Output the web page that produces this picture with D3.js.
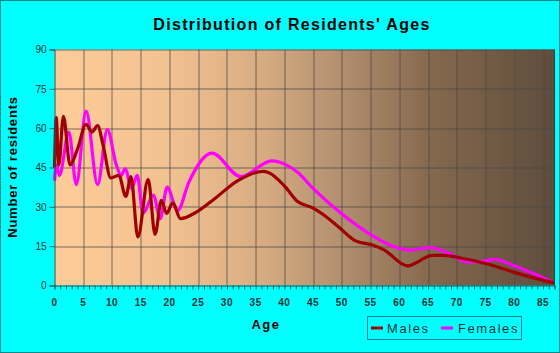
<!DOCTYPE html>
<html>
<head>
<meta charset="utf-8">
<script src="https://cdn.jsdelivr.net/npm/d3@7"></script>
<style>
  body { margin: 0; background: #00FFFF; }
  svg { display: block; font-family: "Liberation Sans", Arial, sans-serif; }
</style>
</head>
<body>
<div id="chart"></div>
<script>
// points: [age, residents]
const males = [
  [0, 45], [0.3, 64], [0.75, 46], [1.55, 64.5], [2.7, 46], [4, 52], [5.5, 61.5],
  [6.5, 58.5], [7.5, 61], [8.5, 53], [9.8, 41], [11.2, 42], [12.4, 34], [13.3, 41.5],
  [14.5, 18.5], [16.3, 40.5], [17.5, 19.5], [18.6, 32.5], [19.5, 27.5], [20.6, 31.5],
  [21.9, 25.5], [24.7, 28], [27.8, 33], [31.9, 40], [36.2, 43.5], [37.3, 43],
  [40, 38], [42.3, 32], [45, 29.5], [46.8, 27], [49.6, 22], [52.4, 17], [55.2, 15.5],
  [57.4, 13.5], [61.4, 7.5], [65.8, 11.5], [67.6, 11.5], [70.7, 10.5], [75.7, 8],
  [80, 5], [86.9, 1]
];
const females = [
  [0, 40], [0.35, 46], [0.85, 42], [2.5, 58.5], [3.8, 38.5], [5.5, 66.5], [7.5, 38.5],
  [9.2, 59.5], [10.75, 46], [11.6, 42], [12.3, 44.5], [13.4, 37], [14.4, 42],
  [15.4, 27.5], [17.2, 34.5], [18.4, 25.5], [19.6, 37.5], [21.4, 28.5], [23.4, 39.5],
  [27.4, 50.5], [32.4, 41.5], [37.8, 47.5], [40.3, 46], [42.4, 43], [45, 37],
  [49.6, 28], [54.6, 20], [58.9, 15], [62, 13.5], [65.4, 14.5], [68.9, 12],
  [71.7, 9], [73.8, 9], [76.6, 10], [80, 7.5], [86.9, 1]
];
const xTicks = d3.range(0, 90, 5);
const yTicks = [0, 15, 30, 45, 60, 75, 90];
const seriesNames = ["Males", "Females"];
const seriesColors = ["#A00000", "#FF00FF"];

const W = 560, H = 353;
const margin = { top: 49.5, right: 5.5, bottom: 67.5, left: 54.5 };
const width = W - margin.left - margin.right;
const height = H - margin.top - margin.bottom;

const svg = d3.select("#chart").append("svg")
    .attr("width", W)
    .attr("height", H);

// outer frame
svg.append("rect")
    .attr("x", 0.5).attr("y", 0.5)
    .attr("width", W - 1).attr("height", H - 1)
    .attr("fill", "#00FFFF")
    .attr("stroke", "#008B8B");

// plot gradient
const grad = svg.append("defs").append("linearGradient")
    .attr("id", "bg").attr("x1", "0%").attr("x2", "100%");
[["0%", "#FFCC99"], ["22%", "#F2C291"], ["42%", "#D7AB82"], ["58%", "#B08E6E"],
 ["75%", "#85694F"], ["100%", "#5E4C3C"]].forEach(s =>
  grad.append("stop").attr("offset", s[0]).attr("stop-color", s[1]));

const g = svg.append("g")
    .attr("transform", `translate(${margin.left},${margin.top})`);

const x = d3.scaleLinear().domain([0, 87]).range([0, width]);
const y = d3.scaleLinear().domain([0, 90]).range([height, 0]);

g.append("rect")
    .attr("width", width).attr("height", height)
    .attr("fill", "url(#bg)");

// grid lines
g.append("g")
  .selectAll("line")
  .data(xTicks.filter(d => d > 0))
  .join("line")
    .attr("x1", d => Math.round(x(d)) + 0.5).attr("x2", d => Math.round(x(d)) + 0.5)
    .attr("y1", 0).attr("y2", height)
    .attr("stroke", "#4a4a4a").attr("stroke-opacity", 0.75);
g.append("g")
  .selectAll("line")
  .data(yTicks.filter(d => d > 0))
  .join("line")
    .attr("x1", 0).attr("x2", width)
    .attr("y1", d => Math.round(y(d)) + 0.5).attr("y2", d => Math.round(y(d)) + 0.5)
    .attr("stroke", "#4a4a4a").attr("stroke-opacity", 0.75);

// right border of plot
g.append("line")
    .attr("x1", width).attr("x2", width).attr("y1", 0).attr("y2", height)
    .attr("stroke", "#3a3a3a");

// lines
const line = d3.line()
    .x(d => x(d[0]))
    .y(d => y(d[1]))
    .curve(d3.curveMonotoneX);

[males, females].forEach((s, i) => {
  g.append("path")
      .datum(s)
      .attr("fill", "none")
      .attr("stroke", seriesColors[i])
      .attr("stroke-width", 3.2)
      .attr("stroke-linejoin", "round")
      .attr("d", line);
});
// males drawn on top of females like in the picture
g.selectAll("path").filter((d, i) => i === 0).raise();

// Y axis
const yAxis = g.append("g")
    .call(d3.axisLeft(y).tickValues(yTicks).tickSize(5).tickPadding(3));
yAxis.select(".domain").attr("stroke", "#006060");
yAxis.selectAll(".tick line").attr("stroke", "#006060");
yAxis.selectAll("text")
    .attr("font-family", "Liberation Sans, Arial")
    .attr("font-size", 10)
    .attr("fill", "#003333");

// X axis, minor ticks every year
const xAxis = g.append("g")
    .attr("transform", `translate(0,${height})`)
    .call(d3.axisBottom(x).tickValues(d3.range(0, 88, 1)).tickSize(4).tickFormat(""));
xAxis.select(".domain").attr("stroke", "#006060");
xAxis.selectAll(".tick line").attr("stroke", "#006060");

g.append("g")
  .selectAll("text")
  .data(xTicks)
  .join("text")
    .attr("x", d => x(d))
    .attr("y", height + 20)
    .attr("text-anchor", "middle")
    .attr("font-size", 10)
    .attr("font-weight", "bold")
    .attr("letter-spacing", "0.5px")
    .attr("fill", "#003333")
    .text(d => d);

// title
svg.append("text")
    .attr("x", 292).attr("y", 30)
    .attr("text-anchor", "middle")
    .attr("font-size", 16)
    .attr("font-weight", "bold")
    .attr("letter-spacing", "1.3px")
    .attr("fill", "#000")
    .text("Distribution of Residents' Ages");

// axis titles
svg.append("text")
    .attr("transform", "translate(17,167) rotate(-90)")
    .attr("text-anchor", "middle")
    .attr("font-size", 13)
    .attr("font-weight", "bold")
    .attr("letter-spacing", "0.8px")
    .attr("fill", "#000")
    .text("Number of residents");

svg.append("text")
    .attr("x", 266).attr("y", 329)
    .attr("text-anchor", "middle")
    .attr("font-size", 13)
    .attr("font-weight", "bold")
    .attr("letter-spacing", "1.5px")
    .attr("fill", "#000")
    .text("Age");

// legend
const legend = svg.append("g");
legend.append("rect")
    .attr("x", 367.5).attr("y", 316.5)
    .attr("width", 154).attr("height", 23)
    .attr("fill", "none")
    .attr("stroke", "#008080");
const legendX = [371, 441];
const legendTextX = [387, 458];
seriesNames.forEach((name, i) => {
  legend.append("line")
      .attr("x1", legendX[i]).attr("x2", legendX[i] + 12)
      .attr("y1", 328).attr("y2", 328)
      .attr("stroke", seriesColors[i])
      .attr("stroke-width", 3);
  legend.append("text")
      .attr("x", legendTextX[i]).attr("y", 333)
      .attr("font-size", 13)
      .attr("letter-spacing", "1.6px")
      .attr("fill", "#003333")
      .text(name);
});
</script>
</body>
</html>
